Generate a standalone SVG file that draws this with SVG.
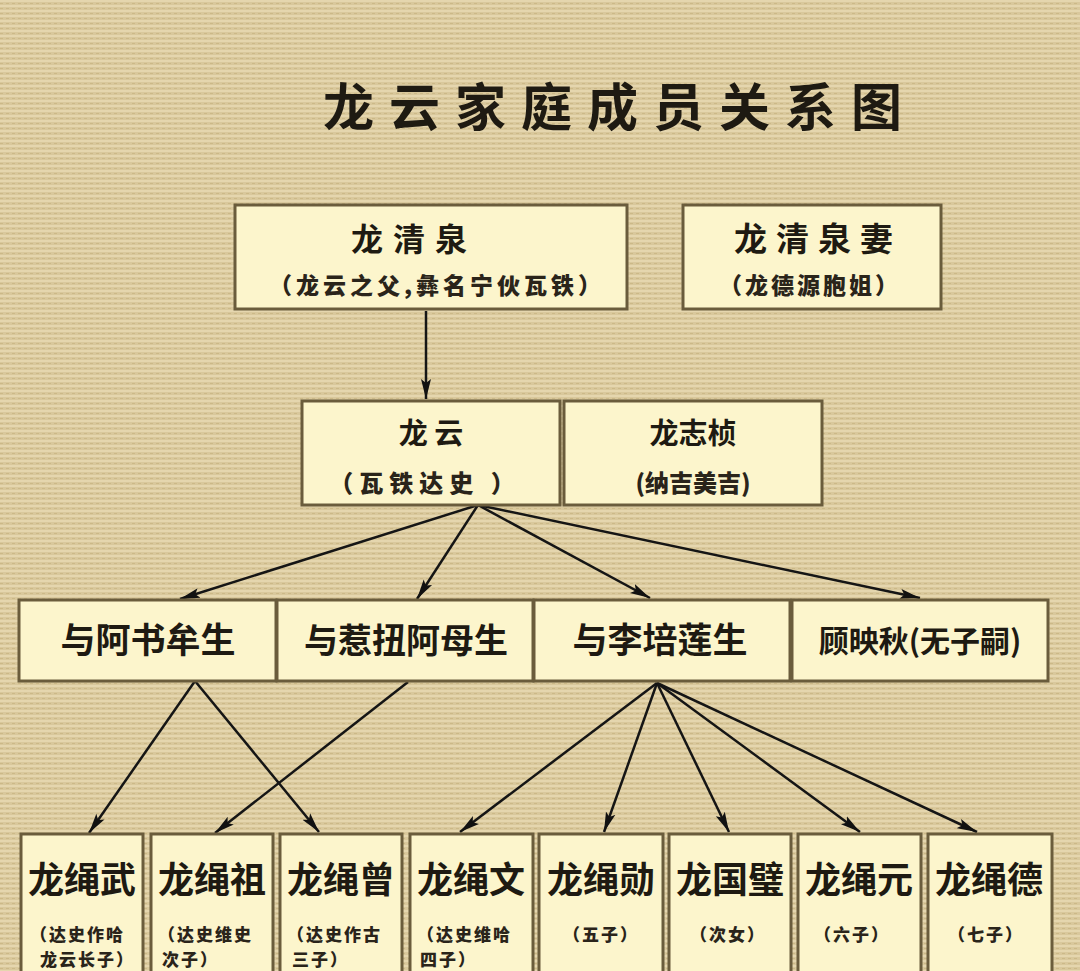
<svg xmlns="http://www.w3.org/2000/svg" width="1080" height="971" viewBox="0 0 1080 971">
<defs>
<pattern id="tex" width="6" height="5" patternUnits="userSpaceOnUse">
<rect width="6" height="5" fill="#d9c89c"/>
<rect y="0" width="6" height="2" fill="#e5d6ae"/>
<rect x="0" y="3" width="3" height="1" fill="#ccb988"/>
</pattern>
<marker id="arr" viewBox="0 0 20 12" refX="20" refY="6" markerWidth="20" markerHeight="12" markerUnits="userSpaceOnUse" orient="auto">
<path d="M0,1 L20,6 L0,11 L4,6 z" fill="#111"/>
</marker>
</defs>
<style>
.box{fill:#fcf5cc;stroke:#6a5c3c;stroke-width:3}
.t{font-family:"Noto Sans CJK SC","Noto Sans CJK JP",sans-serif;font-weight:700;fill:#1e1a12;text-anchor:middle}
.s{font-family:"Noto Sans CJK SC","Noto Sans CJK JP",sans-serif;font-weight:900;fill:#2a241a;text-anchor:middle}
.l{font-family:"Noto Sans CJK SC","Noto Sans CJK JP",sans-serif;font-weight:900;fill:#2a241a;text-anchor:start;font-size:17px;letter-spacing:2px}
.c{fill:none;stroke:#151515;stroke-width:2.5;marker-end:url(#arr)}
</style>
<rect width="1080" height="971" fill="url(#tex)"/>
<text class="t" x="620" y="126" font-size="51" font-weight="900" letter-spacing="15">龙云家庭成员关系图</text>

<g id="connectors">
<line class="c" x1="426" y1="311" x2="426" y2="399"/>
<line class="c" x1="478" y1="505" x2="180" y2="599"/>
<line class="c" x1="478" y1="505" x2="417" y2="599"/>
<line class="c" x1="478" y1="505" x2="650" y2="598"/>
<line class="c" x1="478" y1="505" x2="920" y2="598"/>
<line class="c" x1="195" y1="681" x2="89" y2="833"/>
<line class="c" x1="195" y1="681" x2="319" y2="832"/>
<line class="c" x1="408" y1="682" x2="215" y2="833"/>
<line class="c" x1="657" y1="683" x2="460" y2="832"/>
<line class="c" x1="657" y1="683" x2="604" y2="832"/>
<line class="c" x1="657" y1="683" x2="729" y2="832"/>
<line class="c" x1="657" y1="683" x2="860" y2="832"/>
<line class="c" x1="657" y1="683" x2="977" y2="832"/>
</g>

<g id="n-qingquan"><rect class="box" x="235" y="205" width="392" height="104"/>
<text class="t" x="414" y="251" font-size="32" letter-spacing="10">龙清泉</text>
<text class="s" x="437" y="294" font-size="23" letter-spacing="4">（龙云之父,彝名宁伙瓦铁）</text></g>
<g id="n-qi"><rect class="box" x="683" y="205" width="258" height="104"/>
<text class="t" x="818" y="251" font-size="33" letter-spacing="9">龙清泉妻</text>
<text class="s" x="810" y="294" font-size="23" letter-spacing="3">（龙德源胞姐）</text></g>

<g id="n-longyun"><rect class="box" x="302" y="401" width="258" height="104"/>
<text class="t" x="431" y="444" font-size="29">龙 云</text>
<text class="s" x="425" y="492" font-size="24" letter-spacing="6">（瓦铁达史 ）</text></g>
<g id="n-zhizhen"><rect class="box" x="564" y="401" width="258" height="104"/>
<text class="t" x="693" y="444" font-size="29">龙志桢</text>
<text class="s" x="693" y="492" font-size="24">(纳吉美吉)</text></g>

<g id="n-ashu"><rect class="box" x="19" y="600" width="257" height="81"/>
<text class="t" x="148" y="653" font-size="35">与阿书牟生</text></g>
<g id="n-reniu"><rect class="box" x="277" y="600" width="256" height="81"/>
<text class="t" x="406" y="653" font-size="34">与惹扭阿母生</text></g>
<g id="n-lipeilian"><rect class="box" x="534" y="600" width="256" height="81"/>
<text class="t" x="660" y="653" font-size="35">与李培莲生</text></g>
<g id="n-guyingqiu"><rect class="box" x="792" y="600" width="256" height="81"/>
<text class="t" x="920" y="652" font-size="30">顾映秋(无子嗣)</text></g>

<g id="n-shengwu"><rect class="box" x="21" y="834" width="122" height="150"/>
<text class="t" x="82" y="893" font-size="36">龙绳武</text>
<text class="l"><tspan x="30" y="941">（达史作哈</tspan><tspan x="40" y="966">龙云长子）</tspan></text></g>
<g id="n-shengzu"><rect class="box" x="151" y="834" width="122" height="150"/>
<text class="t" x="212" y="893" font-size="36">龙绳祖</text>
<text class="l"><tspan x="158" y="941">（达史维史</tspan><tspan x="162" y="966">次子）</tspan></text></g>
<g id="n-shengzeng"><rect class="box" x="280" y="834" width="122" height="150"/>
<text class="t" x="341" y="893" font-size="36">龙绳曾</text>
<text class="l"><tspan x="287" y="941">（达史作古</tspan><tspan x="292" y="966">三子）</tspan></text></g>
<g id="n-shengwen"><rect class="box" x="410" y="834" width="123" height="150"/>
<text class="t" x="471" y="893" font-size="36">龙绳文</text>
<text class="l"><tspan x="417" y="941">（达史维哈</tspan><tspan x="420" y="966">四子）</tspan></text></g>
<g id="n-shengxun"><rect class="box" x="539" y="834" width="124" height="150"/>
<text class="t" x="601" y="893" font-size="36">龙绳勋</text>
<text class="s" x="601" y="941" font-size="17" letter-spacing="2">（五子）</text></g>
<g id="n-guobi"><rect class="box" x="669" y="834" width="122" height="150"/>
<text class="t" x="730" y="893" font-size="36">龙国璧</text>
<text class="s" x="728" y="941" font-size="17" letter-spacing="2">（次女）</text></g>
<g id="n-shengyuan"><rect class="box" x="798" y="834" width="123" height="150"/>
<text class="t" x="859" y="893" font-size="36">龙绳元</text>
<text class="s" x="852" y="941" font-size="17" letter-spacing="2">（六子）</text></g>
<g id="n-shengde"><rect class="box" x="928" y="834" width="124" height="150"/>
<text class="t" x="989" y="893" font-size="36">龙绳德</text>
<text class="s" x="986" y="941" font-size="17" letter-spacing="2">（七子）</text></g>
</svg>
